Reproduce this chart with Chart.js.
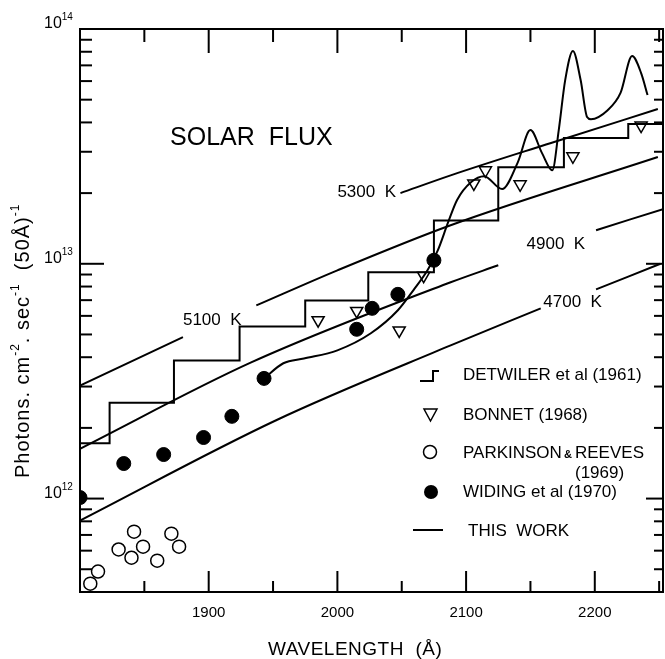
<!DOCTYPE html>
<html>
<head>
<meta charset="utf-8">
<script src="https://cdn.jsdelivr.net/npm/chart.js@4.4.1/dist/chart.umd.min.js"></script>
<style>
    html, body { margin: 0; padding: 0; background: #fff; }
    canvas { display: block; }
</style>
</head>
<body>
<canvas id="fluxChart" width="665" height="659"></canvas>
<script>
// Detwiler et al (1961) - 50 A bins, value held until next edge
const detwilerWl = [1800, 1823, 1873, 1924, 1975, 2024, 2075, 2125, 2176, 2226, 2253];
const detwilerFlux = [1.72e12, 2.56e12, 3.87e12, 5.41e12, 6.98e12, 9.20e12, 1.53e13, 2.58e13, 3.43e13, 3.94e13, 3.94e13];

// Bonnet (1968)
const bonnetWl = [1985, 2015, 2048, 2067, 2106, 2115, 2142, 2183, 2236];
const bonnetFlux = [5.75e12, 6.3e12, 5.2e12, 8.9e12, 2.2e13, 2.5e13, 2.18e13, 2.87e13, 3.88e13];

// Parkinson & Reeves (1969)
const parkinsonWl = [1808, 1814, 1830, 1840, 1842, 1849, 1860, 1871, 1877];
const parkinsonFlux = [4.34e11, 4.89e11, 6.07e11, 5.60e11, 7.23e11, 6.24e11, 5.44e11, 7.09e11, 6.24e11];

// Widing et al (1970)
const widingWl = [1800, 1834, 1865, 1896, 1918, 1943, 2015, 2027, 2047, 2075];
const widingFlux = [1.01e12, 1.41e12, 1.54e12, 1.82e12, 2.24e12, 3.25e12, 5.26e12, 6.46e12, 7.41e12, 1.035e13];

// smooth curve through the Widing points and beyond
const curveWl = [1943, 1958, 1974, 2000, 2026, 2047, 2059, 2070, 2078, 2086, 2093, 2104, 2114, 2128, 2140, 2150, 2159, 2167, 2172, 2177, 2183, 2189, 2194, 2197, 2210, 2220, 2229, 2236, 2241];
const curveFlux = [3.25e12, 3.77e12, 3.95e12, 4.28e12, 5.06e12, 6.34e12, 7.71e12, 9.38e12, 1.14e13, 1.50e13, 1.87e13, 2.23e13, 2.36e13, 2.08e13, 2.69e13, 3.71e13, 2.96e13, 2.50e13, 3.71e13, 6.06e13, 8.06e13, 6.06e13, 4.22e13, 4.13e13, 4.51e13, 5.34e13, 7.67e13, 6.49e13, 5.23e13];

// this work - black body curves (null = gap for the label)
const bb5300Wl = [2049, 2088, 2166, 2249];
const bb5300Flux = [2.0e13, 2.38e13, 3.27e13, 4.56e13];

const bb5100Wl = [1800, 1880, 1908, 1937, 2000, 2088, 2249];
const bb5100Flux = [3.03e12, 4.87e12, null, 6.65e12, 9.38e12, 1.46e13, 2.85e13];

const bb4900Wl = [1800, 1933, 2088, 2125, 2160, 2201, 2253];
const bb4900Flux = [1.63e12, 3.80e12, 8.34e12, 9.86e12, null, 1.39e13, 1.71e13];

const bb4700Wl = [1800, 1952, 2088, 2158, 2180, 2201, 2251];
const bb4700Flux = [8.06e11, 2.15e12, 4.49e12, 6.46e12, null, 7.78e12, 1.0e13];

// axis ticks
const xLabelTicks = [1900, 2000, 2100, 2200];
const yDecades = [1e12, 1e13, 1e14];
const yExponents = ["12", "13", "14"];

// text placed in data coordinates
const tempLabels = ["5100  K", "5300  K", "4900  K", "4700  K"];
const tempLabelWl = [1880, 2000, 2147, 2160];
const tempLabelFlux = [5.74e12, 2.02e13, 1.21e13, 6.86e12];

const FONT = '"Liberation Sans", Arial, sans-serif';

function pts(xs, ys) {
    return xs.map((x, i) => ({ x: x, y: ys[i] }));
}

function line(ctx, x1, y1, x2, y2) {
    ctx.beginPath();
    ctx.moveTo(x1, y1);
    ctx.lineTo(x2, y2);
    ctx.stroke();
}

// draws text with superscript parts, returns end x
function drawRich(ctx, parts, x, y, size) {
    let cx = x;
    parts.forEach(([t, sup]) => {
        ctx.font = (sup ? Math.round(size * 0.62) : size) + "px " + FONT;
        ctx.fillText(t, cx, sup ? y - size * 0.5 : y);
        cx += ctx.measureText(t).width;
    });
    return cx;
}

const framePlugin = {
    id: "frame",
    beforeDraw(chart) {
        const c = chart.ctx;
        c.save();
        c.fillStyle = "#fff";
        c.fillRect(0, 0, chart.width, chart.height);
        c.restore();
    },
    afterDraw(chart) {
        const c = chart.ctx;
        const a = chart.chartArea;
        const xs = chart.scales.x;
        const ys = chart.scales.y;

        c.save();
        c.strokeStyle = "#000";
        c.fillStyle = "#000";
        c.lineWidth = 2;
        c.strokeRect(a.left, a.top, a.right - a.left, a.bottom - a.top);

        // x ticks, pointing inward on top and bottom
        for (let v = 1850; v <= 2250; v += 50) {
            const px = xs.getPixelForValue(v);
            const major = v % 100 === 0;
            line(c, px, a.bottom, px, a.bottom - (major ? 21 : 11));
            line(c, px, a.top, px, a.top + (major ? 24 : 13));
        }

        // y ticks, pointing inward on left and right
        for (let d = 11; d <= 14; d++) {
            for (let m = 1; m <= 9; m++) {
                const v = m * Math.pow(10, d);
                if (v < ys.min * 1.001 || v > ys.max * 0.999) continue;
                const py = ys.getPixelForValue(v);
                line(c, a.left, py, a.left + (m === 1 ? 24 : 12), py);
                line(c, a.right, py, a.right - (m === 1 ? 17 : 9), py);
            }
        }

        // y tick labels 10^n
        c.textBaseline = "alphabetic";
        c.textAlign = "left";
        yDecades.forEach((v, i) => {
            const py = ys.getPixelForValue(v);
            drawRich(c, [["10", 0], [yExponents[i], 1]], 44, py - 1, 16);
        });

        // axis titles
        c.letterSpacing = "0.5px";
        drawRich(c, [["WAVELENGTH  (Å)", 0]], 268, 655, 19);
        c.letterSpacing = "1px";
        c.save();
        c.translate(29, 478);
        c.rotate(-Math.PI / 2);
        drawRich(c, [["Photons. cm", 0], ["-2", 1], [". sec", 0], ["-1", 1], ["  (50Å)", 0], ["-1", 1]], 0, 0, 20);
        c.restore();
        c.letterSpacing = "0px";

        // title and temperature labels
        c.textBaseline = "middle";
        c.font = "25px " + FONT;
        c.fillText("SOLAR  FLUX", xs.getPixelForValue(1870), ys.getPixelForValue(3.44e13));
        c.font = "17px " + FONT;
        tempLabels.forEach((t, i) => {
            c.fillText(t, xs.getPixelForValue(tempLabelWl[i]), ys.getPixelForValue(tempLabelFlux[i]));
        });

        // legend
        c.lineWidth = 2;
        c.beginPath();
        c.moveTo(420, 381);
        c.lineTo(433, 381);
        c.lineTo(433, 371);
        c.lineTo(439, 371);
        c.stroke();

        c.lineWidth = 1.5;
        c.beginPath();
        c.moveTo(424, 409);
        c.lineTo(437, 409);
        c.lineTo(430.5, 421);
        c.closePath();
        c.stroke();

        c.beginPath();
        c.arc(430, 452, 6.5, 0, Math.PI * 2);
        c.stroke();

        c.beginPath();
        c.arc(431, 492, 7, 0, Math.PI * 2);
        c.fill();

        c.lineWidth = 2;
        line(c, 413, 530, 443, 530);

        c.font = "17px " + FONT;
        c.fillText("DETWILER et al (1961)", 463, 375);
        c.fillText("BONNET (1968)", 463, 415);
        c.fillText("PARKINSON", 463, 453);
        c.fillText("REEVES", 575, 453);
        c.fillText("(1969)", 575, 473);
        c.fillText("WIDING et al (1970)", 463, 492);
        c.fillText("THIS  WORK", 468, 531);
        c.font = "bold 11px " + FONT;
        c.fillText("&", 564, 455);

        c.restore();
    }
};

const blackLine = {
    showLine: true,
    borderColor: "#000",
    borderWidth: 2,
    pointRadius: 0,
    spanGaps: false,
    cubicInterpolationMode: "monotone"
};

new Chart(document.getElementById("fluxChart"), {
    type: "scatter",
    data: {
        datasets: [
            Object.assign({ label: "THIS WORK 5300 K", data: pts(bb5300Wl, bb5300Flux) }, blackLine),
            Object.assign({ label: "THIS WORK 5100 K", data: pts(bb5100Wl, bb5100Flux) }, blackLine),
            Object.assign({ label: "THIS WORK 4900 K", data: pts(bb4900Wl, bb4900Flux) }, blackLine),
            Object.assign({ label: "THIS WORK 4700 K", data: pts(bb4700Wl, bb4700Flux) }, blackLine),
            {
                label: "DETWILER et al (1961)",
                data: pts(detwilerWl, detwilerFlux),
                showLine: true,
                stepped: "before",
                borderColor: "#000",
                borderWidth: 2,
                pointRadius: 0
            },
            Object.assign({ label: "curve", data: pts(curveWl, curveFlux) }, blackLine),
            {
                label: "BONNET (1968)",
                data: pts(bonnetWl, bonnetFlux),
                pointStyle: "triangle",
                rotation: 180,
                pointRadius: 7,
                borderColor: "#000",
                borderWidth: 1.5,
                backgroundColor: "rgba(0,0,0,0)"
            },
            {
                label: "PARKINSON & REEVES (1969)",
                data: pts(parkinsonWl, parkinsonFlux),
                pointRadius: 6.5,
                borderColor: "#000",
                borderWidth: 1.5,
                backgroundColor: "rgba(0,0,0,0)"
            },
            {
                label: "WIDING et al (1970)",
                data: pts(widingWl, widingFlux),
                pointRadius: 7,
                borderColor: "#000",
                borderWidth: 1,
                backgroundColor: "#000"
            }
        ]
    },
    options: {
        responsive: false,
        animation: false,
        devicePixelRatio: 1,
        layout: { autoPadding: false, padding: { top: 29, right: 2, left: 0, bottom: 0 } },
        plugins: {
            legend: { display: false },
            tooltip: { enabled: false }
        },
        scales: {
            x: {
                type: "linear",
                min: 1800,
                max: 2253,
                grid: { display: false, drawTicks: false },
                border: { display: false },
                ticks: {
                    color: "#000",
                    font: { family: FONT, size: 15 },
                    padding: 12,
                    maxRotation: 0,
                    callback: (v) => String(v)
                },
                afterBuildTicks: (axis) => {
                    axis.ticks = xLabelTicks.map(v => ({ value: v }));
                },
                afterFit: (axis) => {
                    axis.height = 67;
                    axis.paddingLeft = 0;
                    axis.paddingRight = 0;
                }
            },
            y: {
                type: "logarithmic",
                min: 4e11,
                max: 1e14,
                grid: { display: false, drawTicks: false },
                border: { display: false },
                ticks: { display: false },
                afterFit: (axis) => { axis.width = 80; }
            }
        }
    },
    plugins: [framePlugin]
});
</script>
</body>
</html>
